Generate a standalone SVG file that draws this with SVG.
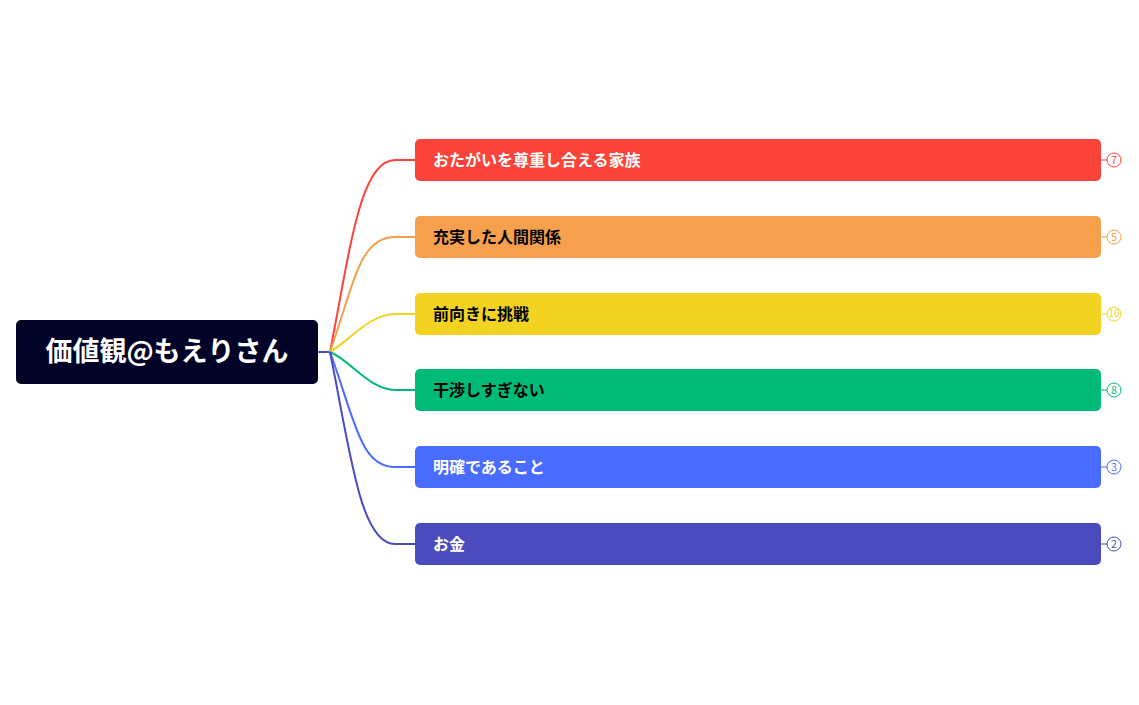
<svg xmlns="http://www.w3.org/2000/svg" width="1139" height="705" viewBox="0 0 1139 705">
<style>
text{font-family:"Noto Sans CJK JP","Liberation Sans",sans-serif;font-weight:bold}
.t{font-size:16px}
.c{fill:#fff;stroke-width:1}
.n{font-size:10px;font-weight:normal;text-anchor:middle}
.e{fill:none;stroke-width:2}
</style>
<rect width="1139" height="705" fill="#fff"/>
<g id="connectors">
<path d="M318,352 L330,352" stroke="#4c4bbe" stroke-width="2"/>
<path class="e" stroke="#fb4339" d="M330,352 C350,250 360,160 395,160 L415,160"/>
<path class="e" stroke="#f6a04d" d="M330,352 C355,280 360,237 395,237 L415,237"/>
<path class="e" stroke="#f2d321" d="M330,352 C350,340 370,314 395,314 L415,314"/>
<path class="e" stroke="#00bb78" d="M330,352 C350,360 370,390 395,390 L415,390"/>
<path class="e" stroke="#4a6bff" d="M330,352 C355,420 360,467 395,467 L415,467"/>
<path class="e" stroke="#4c4bbe" d="M330,352 C350,450 360,544 395,544 L415,544"/>
</g>
<g id="root"><rect x="16" y="320" width="302" height="64" rx="5" fill="#020326"/>
<text x="167" y="361" font-size="27" fill="#fff" text-anchor="middle">価値観@もえりさん</text></g>
<g id="n1"><rect x="415" y="139" width="686" height="42" rx="5" fill="#fb4339"/><text class="t" x="433" y="166" fill="#fff">おたがいを尊重し合える家族</text>
<path d="M1101,160 H1107" stroke="#fb4339"/><circle class="c" cx="1114" cy="160" r="7" stroke="#fb4339"/><text class="n" x="1114" y="164" fill="#fb4339">7</text></g>
<g id="n2"><rect x="415" y="216" width="686" height="42" rx="5" fill="#f6a04d"/><text class="t" x="433" y="243" fill="#000">充実した人間関係</text>
<path d="M1101,237 H1107" stroke="#f6a04d"/><circle class="c" cx="1114" cy="237" r="7" stroke="#f6a04d"/><text class="n" x="1114" y="241" fill="#f6a04d">5</text></g>
<g id="n3"><rect x="415" y="293" width="686" height="42" rx="5" fill="#f2d321"/><text class="t" x="433" y="320" fill="#000">前向きに挑戦</text>
<path d="M1101,314 H1107" stroke="#f2d321"/><circle class="c" cx="1114" cy="314" r="7" stroke="#f2d321"/><text class="n" x="1114" y="317" fill="#f2d321" font-size="8">10</text></g>
<g id="n4"><rect x="415" y="369" width="686" height="42" rx="5" fill="#00bb78"/><text class="t" x="433" y="396" fill="#000">干渉しすぎない</text>
<path d="M1101,390 H1107" stroke="#00bb78"/><circle class="c" cx="1114" cy="390" r="7" stroke="#00bb78"/><text class="n" x="1114" y="394" fill="#00bb78">8</text></g>
<g id="n5"><rect x="415" y="446" width="686" height="42" rx="5" fill="#4a6bff"/><text class="t" x="433" y="473" fill="#fff">明確であること</text>
<path d="M1101,467 H1107" stroke="#4a6bff"/><circle class="c" cx="1114" cy="467" r="7" stroke="#4a6bff"/><text class="n" x="1114" y="471" fill="#4a6bff">3</text></g>
<g id="n6"><rect x="415" y="523" width="686" height="42" rx="5" fill="#4c4bbe"/><text class="t" x="433" y="550" fill="#fff">お金</text>
<path d="M1101,544 H1107" stroke="#4c4bbe"/><circle class="c" cx="1114" cy="544" r="7" stroke="#4c4bbe"/><text class="n" x="1114" y="548" fill="#4c4bbe">2</text></g>
</svg>
